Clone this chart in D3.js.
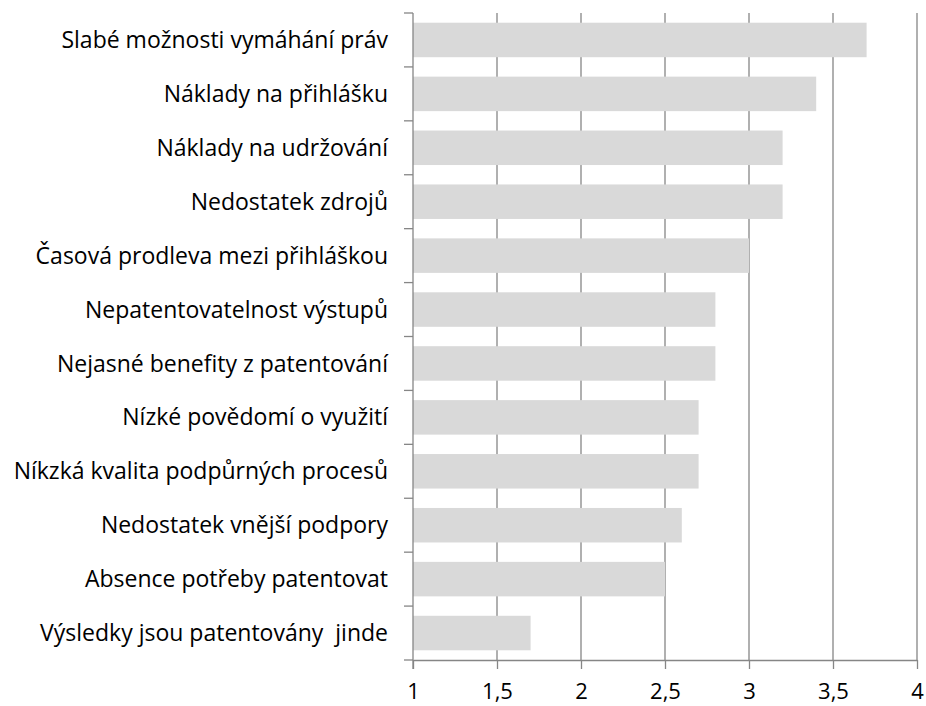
<!DOCTYPE html>
<html lang="cs">
<head>
<meta charset="UTF-8">
<script src="https://cdn.jsdelivr.net/npm/d3@7"></script>
<style>
    * { margin: 0; padding: 0; }
    body { background: white; font-family: "Open Sans", "Noto Sans", sans-serif; }
    svg { display: block; }
</style>
</head>
<body>
<div id="chart"></div>
<script>
    // data
    var categories = [
        "Slabé možnosti vymáhání práv",
        "Náklady na přihlášku",
        "Náklady na udržování",
        "Nedostatek zdrojů",
        "Časová prodleva mezi přihláškou",
        "Nepatentovatelnost výstupů",
        "Nejasné benefity z patentování",
        "Nízké povědomí o využití",
        "Níkzká kvalita podpůrných procesů",
        "Nedostatek vnější podpory",
        "Absence potřeby patentovat",
        "Výsledky jsou patentovány  jinde"
    ];
    var values = [3.7, 3.4, 3.2, 3.2, 3.0, 2.8, 2.8, 2.7, 2.7, 2.6, 2.5, 1.7];
    var xTicks = [1, 1.5, 2, 2.5, 3, 3.5, 4];

    var w = 926, h = 706;
    var mLeft = 413, mRight = 917, mTop = 13, mBottom = 660;

    var svg = d3.select("#chart").append("svg")
        .attr("width", w)
        .attr("height", h);

    var xScale = d3.scaleLinear().domain([1, 4]).range([mLeft, mRight]);
    var yScale = d3.scaleBand().domain(categories).range([mTop, mBottom]).paddingInner(0.36).paddingOuter(0.18);

    // gridlines
    svg.append("g")
        .selectAll("line")
        .data(xTicks.slice(1))
        .enter()
        .append("line")
        .attr("x1", function(d) { return xScale(d); })
        .attr("x2", function(d) { return xScale(d); })
        .attr("y1", mTop)
        .attr("y2", mBottom)
        .attr("stroke", "#868686")
        .attr("stroke-width", 1.3);

    // bars
    svg.append("g")
        .selectAll("rect")
        .data(values)
        .enter()
        .append("rect")
        .attr("x", xScale(1))
        .attr("y", function(d, i) { return yScale(categories[i]); })
        .attr("width", function(d) { return xScale(d) - xScale(1); })
        .attr("height", yScale.bandwidth())
        .attr("fill", "#d9d9d9");

    // x axis
    var fmt = function(d) { return String(d).replace(".", ","); };
    var xAxis = d3.axisBottom(xScale)
        .tickValues(xTicks)
        .tickFormat(fmt)
        .tickSize(9)
        .tickPadding(14)
        .tickSizeOuter(0);

    var gx = svg.append("g")
        .attr("transform", "translate(0," + mBottom + ")")
        .call(xAxis);
    gx.select(".domain").attr("stroke", "#868686").attr("stroke-width", 1.3);
    gx.selectAll(".tick line").attr("stroke", "#868686").attr("stroke-width", 1.3);
    gx.selectAll("text")
        .attr("font-family", "'Open Sans', 'Noto Sans', sans-serif")
        .attr("font-size", "22px")
        .attr("fill", "#000");

    // y axis: tick marks at band boundaries
    var bounds = d3.range(categories.length + 1).map(function(i) {
        return mTop + i * (mBottom - mTop) / categories.length;
    });
    svg.append("line")
        .attr("x1", mLeft).attr("x2", mLeft)
        .attr("y1", mTop).attr("y2", mBottom + 9)
        .attr("stroke", "#868686").attr("stroke-width", 1.3);
    svg.append("g")
        .selectAll("line")
        .data(bounds)
        .enter()
        .append("line")
        .attr("x1", mLeft - 9).attr("x2", mLeft)
        .attr("y1", function(d) { return d; })
        .attr("y2", function(d) { return d; })
        .attr("stroke", "#868686").attr("stroke-width", 1.3);

    // category labels
    svg.append("g")
        .selectAll("text")
        .data(categories)
        .enter()
        .append("text")
        .attr("x", 388)
        .attr("y", function(d) { return yScale(d) + yScale.bandwidth() / 2; })
        .attr("dy", "0.35em")
        .attr("text-anchor", "end")
        .attr("font-size", "23px")
        .attr("fill", "#000")
        .style("white-space", "pre")
        .text(function(d) { return d; });
</script>
</body>
</html>
